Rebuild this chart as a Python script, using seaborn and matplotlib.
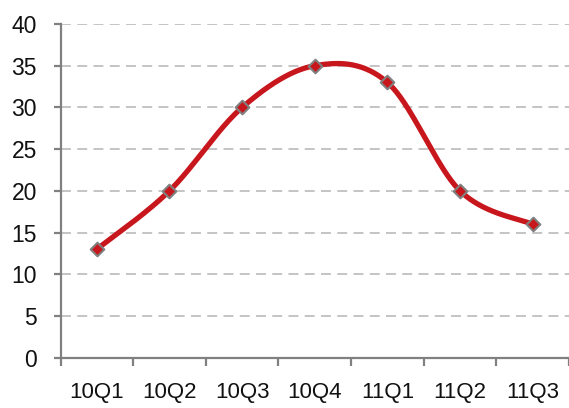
import numpy as np
import pandas as pd
import matplotlib
matplotlib.use("Agg")
import matplotlib.pyplot as plt
import seaborn as sns

categories = ["10Q1", "10Q2", "10Q3", "10Q4", "11Q1", "11Q2", "11Q3"]
values = [13, 20, 30, 35, 33, 20, 16]
y_ticks = [0, 5, 10, 15, 20, 25, 30, 35, 40]

sns.set_theme(style="white")
plt.rcParams['font.family'] = ['Liberation Sans', 'DejaVu Sans']

LINE = "#C8161D"
GRAY = "#808080"

def smooth_curve(xs, ys, n=40):
    # Excel-style smoothed line (Catmull-Rom Bezier segments)
    xs = np.asarray(xs, float); ys = np.asarray(ys, float)
    px, py = [], []
    m = len(xs)
    for i in range(m - 1):
        p0 = (xs[max(i - 1, 0)], ys[max(i - 1, 0)])
        p1 = (xs[i], ys[i]); p2 = (xs[i + 1], ys[i + 1])
        p3 = (xs[min(i + 2, m - 1)], ys[min(i + 2, m - 1)])
        c1 = (p1[0] + (p2[0] - p0[0]) / 6, p1[1] + (p2[1] - p0[1]) / 6)
        c2 = (p2[0] - (p3[0] - p1[0]) / 6, p2[1] - (p3[1] - p1[1]) / 6)
        t = np.linspace(0, 1, n)
        bx = (1-t)**3*p1[0] + 3*(1-t)**2*t*c1[0] + 3*(1-t)*t**2*c2[0] + t**3*p2[0]
        by = (1-t)**3*p1[1] + 3*(1-t)**2*t*c1[1] + 3*(1-t)*t**2*c2[1] + t**3*p2[1]
        px.extend(bx); py.extend(by)
    return np.array(px), np.array(py)

xpos = np.arange(len(categories))
cx, cy = smooth_curve(xpos, values)
df_pts = pd.DataFrame({"x": xpos, "y": values})
df_curve = pd.DataFrame({"x": cx, "y": cy})

fig = plt.figure(figsize=(5.69, 4.08), dpi=100)
left_px, bottom_px, top_px = 60.5, 357.7, 24
ax = fig.add_axes([left_px/569, 1 - bottom_px/408, 1 - left_px/569, (bottom_px - top_px)/408])

for t in y_ticks[1:]:
    ax.axhline(t, color="#BFBFBF", lw=1.3, ls=(0, (5.5, 3.5)), zorder=0)

sns.lineplot(data=df_curve, x="x", y="y", ax=ax, color=LINE, lw=3.8,
             sort=False, estimator=None, zorder=3)
sns.scatterplot(data=df_pts, x="x", y="y", ax=ax, marker="D", s=48,
                color=LINE, edgecolor=GRAY, linewidth=1.5, zorder=4)

ax.set_xlim(-0.5, (569 - left_px) / 73.5 - 0.5)
ax.set_ylim(0, 40)
ax.set_yticks(y_ticks)
ax.set_yticklabels([str(v) for v in y_ticks])
ax.set_xticks(np.arange(-0.5, len(categories) - 0.4, 1.0))
ax.set_xticklabels([])
ax.set_xticks(xpos, minor=True)
ax.set_xticklabels(categories, minor=True)
ax.set_xlabel(""); ax.set_ylabel("")

for s in ["top", "right"]:
    ax.spines[s].set_visible(False)
for s in ["left", "bottom"]:
    ax.spines[s].set_color(GRAY)
    ax.spines[s].set_linewidth(1.6)

ax.tick_params(axis="y", which="major", left=True, length=5, width=1.6,
               color=GRAY, labelsize=16.5, pad=12, labelcolor="#111111")
ax.tick_params(axis="x", which="major", bottom=True, length=6, width=1.6,
               color=GRAY, direction="out")
ax.tick_params(axis="x", which="minor", bottom=True, length=0, pad=17.5,
               labelsize=16, labelcolor="#111111")

fig.savefig("out.png", dpi=100)
